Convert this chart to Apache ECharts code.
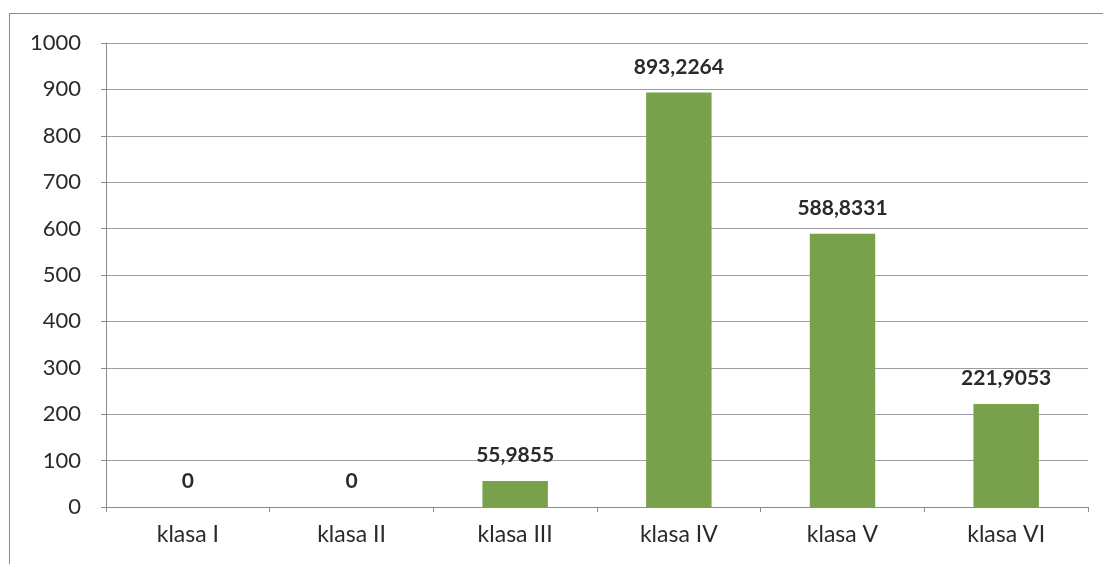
<!DOCTYPE html>
<html>
<head>
<meta charset="utf-8">
<script src="https://cdn.jsdelivr.net/npm/echarts@6/dist/echarts.min.js"></script>
<style>
  html, body { margin: 0; padding: 0; background: #fff; }
  #main { width: 1103px; height: 564px; }
  #frame { position: absolute; left: 9px; top: 13px; width: 1200px; height: 600px; border: 1px solid #8a8a8a; pointer-events: none; }
</style>
</head>
<body>
<div id="main"></div>
<div id="frame"></div>
<script>
// dane z wykresu
var categories = ['klasa I', 'klasa II', 'klasa III', 'klasa IV', 'klasa V', 'klasa VI'];
var values = [0, 0, 55.9855, 893.2264, 588.8331, 221.9053];
var yTicks = [0, 100, 200, 300, 400, 500, 600, 700, 800, 900, 1000];

var chart = echarts.init(document.getElementById('main'));

var font = 'Lato, "Open Sans", sans-serif';

var option = {
    animation: false,
    grid: {
        left: 106,
        right: 15,
        top: 43,
        bottom: 57
    },
    xAxis: {
        type: 'category',
        data: categories,
        axisLine: { show: true, lineStyle: { color: '#8c8c8c', width: 1 } },
        axisTick: { show: true, length: 5, lineStyle: { color: '#8c8c8c' } },
        axisLabel: {
            color: '#2a2a2a',
            fontSize: 23,
            fontFamily: font,
            margin: 16
        }
    },
    yAxis: {
        type: 'value',
        min: yTicks[0],
        max: yTicks[yTicks.length - 1],
        interval: 100,
        axisLine: { show: true, lineStyle: { color: '#8c8c8c', width: 1 } },
        axisTick: { show: true, length: 5, lineStyle: { color: '#8c8c8c' } },
        axisLabel: {
            color: '#2a2a2a',
            fontSize: 22,
            fontFamily: font,
            margin: 25,
            formatter: function (v) { return String(v); }
        },
        splitLine: { lineStyle: { color: '#a09ca6', width: 1 } }
    },
    series: [{
        type: 'bar',
        data: values,
        barWidth: '40%',
        itemStyle: { color: '#79a04a' },
        label: {
            show: true,
            position: 'top',
            distance: 15,
            color: '#2a2a2a',
            fontSize: 21,
            fontWeight: 'bold',
            fontFamily: font,
            formatter: function (p) {
                return String(p.value).replace('.', ',');
            }
        }
    }]
};

chart.setOption(option);
</script>
</body>
</html>
